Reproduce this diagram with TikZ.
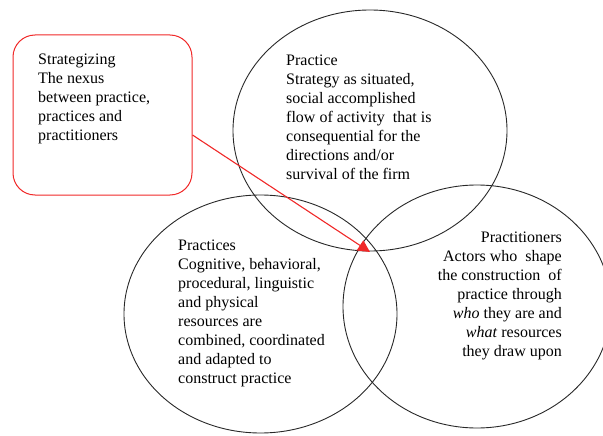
\documentclass[tikz,border=0pt]{standalone}
\usepackage{fontspec}
\setmainfont{Liberation Serif}
\usetikzlibrary{shapes.geometric,arrows.meta}
\definecolor{boxred}{RGB}{240,40,40}
\definecolor{ringgray}{RGB}{40,40,40}
\begin{document}
\begin{tikzpicture}[x=1pt,y=-1pt,
  ring/.style={draw=ringgray,line width=0.9pt,ellipse,inner sep=0pt},
  callout/.style={draw=boxred,line width=1pt,rounded corners=22pt,minimum width=179pt,minimum height=160pt,inner sep=0pt},
  txt/.style={inner sep=0pt,font=\fontsize{16}{19}\selectfont},
  link/.style={draw=boxred,line width=1.1pt,-{Triangle[length=12pt,width=12pt]}}]
\useasboundingbox (0,0) rectangle (603,436);
\node[ring,minimum width=274pt,minimum height=241pt] (practice) at (370,130.5) {};
\node[ring,minimum width=273pt,minimum height=238pt] (practices) at (260.5,314) {};
\node[ring,minimum width=268pt,minimum height=243pt] (practitioners) at (477,306.5) {};
\node[callout] (box) at (102.5,115) {};
\node[txt,anchor=north west,align=left] (tbox) at (38,54) {Strategizing\\The nexus\\between practice,\\practices and\\practitioners};
\node[txt,anchor=north west,align=left] (tpractice) at (286,55) {Practice\\Strategy as situated,\\social accomplished\\flow of activity\ \ that is\\consequential for the\\directions and/or\\survival of the firm};
\node[txt,anchor=north west,align=left] (tpractices) at (178,240) {Practices\\Cognitive, behavioral,\\procedural, linguistic\\and physical\\resources are\\combined, coordinated\\and adapted to\\construct practice};
\node[txt,anchor=north east,align=right] (tpractitioners) at (562,232) {Practitioners\\Actors who\ \ shape\\the construction\ \ of\\practice through\\\textit{who} they are and\\\textit{what} resources\\they draw upon};
\coordinate (tip) at (370,252);
\draw[link] ([yshift=-20pt]box.east) -- (tip);
\end{tikzpicture}
\end{document}
